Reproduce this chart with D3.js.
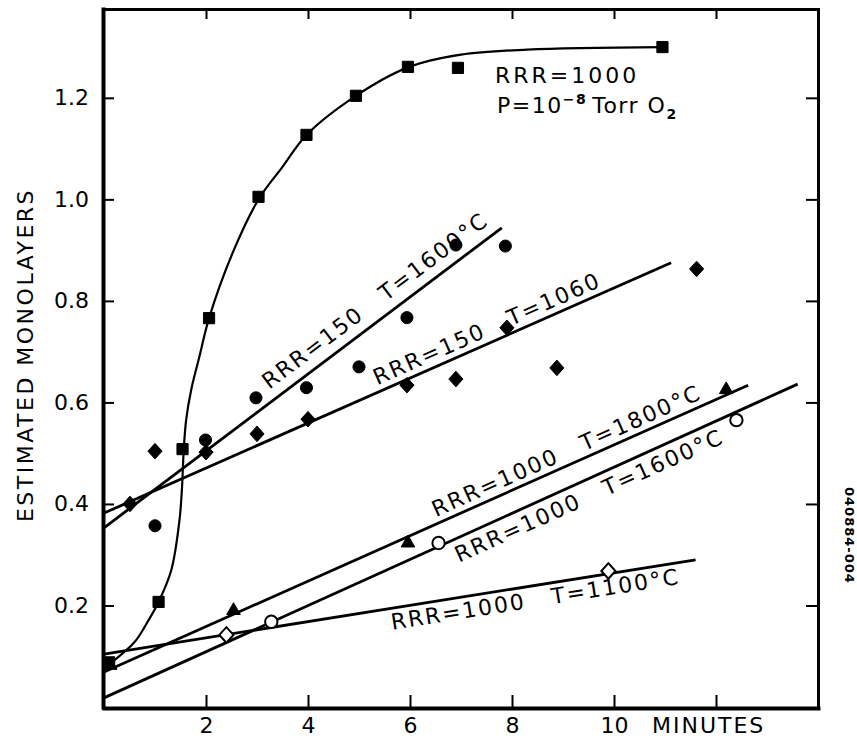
<!DOCTYPE html>
<html>
<head>
<meta charset="utf-8">
<script src="https://cdn.jsdelivr.net/npm/d3@7"></script>
<style>
  body { margin: 0; background: #fff; }
  svg text { font-family: "DejaVu Sans", sans-serif; fill: #000; }
</style>
</head>
<body>
<svg id="chart" width="857" height="738"></svg>
<script>
// readings: time in minutes, estimated monolayers
const xTicks = [2, 4, 6, 8, 10, 12];
const yTicks = [0.2, 0.4, 0.6, 0.8, 1.0, 1.2];

// RRR=1000, P=1e-8 Torr O2 (filled squares) and its drawn curve
const squareT = [0.1, 1.07, 1.54, 2.06, 3.03, 3.97, 4.94, 5.96, 6.94, 10.95];
const squareM = [0.088, 0.207, 0.508, 0.766, 1.005, 1.127, 1.204, 1.261, 1.259, 1.30];
const curveT = [0.15, 0.6, 0.85, 1.07, 1.32, 1.48, 1.53, 1.56, 1.61, 1.71, 1.87, 2.06, 2.52, 3.03, 3.5, 3.97, 4.94, 5.96, 7.0, 8.3, 10.95];
const curveM = [0.088, 0.128, 0.167, 0.207, 0.27, 0.368, 0.433, 0.5, 0.565, 0.625, 0.69, 0.766, 0.894, 1.0, 1.064, 1.127, 1.204, 1.26, 1.285, 1.295, 1.30];

// RRR=150, T=1600 C (filled circles)
const circleT = [1.0, 1.99, 2.98, 3.97, 5.0, 5.94, 6.9, 7.87];
const circleM = [0.357, 0.526, 0.609, 0.629, 0.67, 0.767, 0.91, 0.908];

// RRR=150, T=1060 (filled diamonds)
const diamondT = [0.51, 1.0, 2.0, 3.0, 4.0, 5.94, 6.9, 7.9, 8.88, 11.62];
const diamondM = [0.40, 0.504, 0.502, 0.538, 0.567, 0.634, 0.646, 0.747, 0.668, 0.863];

// RRR=1000, T=1800 C (filled triangles)
const triangleT = [0.12, 2.54, 5.96, 12.2];
const triangleM = [0.082, 0.19, 0.323, 0.625];

// RRR=1000, T=1600 C (open circles)
const openCircleT = [3.28, 6.56, 12.4];
const openCircleM = [0.168, 0.323, 0.565];

// RRR=1000, T=1100 C (open diamonds)
const openDiamondT = [2.4, 9.89];
const openDiamondM = [0.142, 0.268];

// straight fitted lines: [start, end]
const fitNames = ['150-1600', '150-1060', '1000-1800', '1000-1600', '1000-1100'];
const fitT = [[0, 7.8], [0, 11.12], [0, 12.63], [0, 13.6], [0, 11.6]];
const fitM = [[0.353, 0.944], [0.382, 0.875], [0.069, 0.634], [0.018, 0.636], [0.104, 0.29]];

// line labels
const labelFirst = ['RRR=150', 'RRR=150', 'RRR=1000', 'RRR=1000', 'RRR=1000'];
const labelSecond = ['T=1600°C', 'T=1060', 'T=1800°C', 'T=1600°C', 'T=1100°C'];
const labelT = [3.24, 5.36, 6.51, 6.96, 5.65];
const labelM = [0.625, 0.634, 0.374, 0.284, 0.152];

const svg = d3.select('#chart');
const x = d3.scaleLinear().domain([0, 14]).range([104, 818]);
const y = d3.scaleLinear().domain([0, 1.375]).range([707, 9]);

// frame with inward ticks on all four sides
function styleAxis(g, width) {
    g.select('.domain').attr('stroke', '#000').attr('stroke-width', width).attr('stroke-linecap', 'square');
    g.selectAll('.tick line').attr('stroke', '#000').attr('stroke-width', 2);
    g.attr('font-size', 22).attr('font-family', 'DejaVu Sans');
    g.selectAll('.tick text').attr('fill', '#000');
}

svg.append('g')
    .attr('transform', 'translate(0,708)')
    .call(d3.axisBottom(x).tickValues(xTicks).tickSizeInner(-13).tickSizeOuter(0).tickPadding(9)
        .tickFormat(d => d === 12 ? '' : d))
    .call(g => styleAxis(g, 4));

svg.append('g')
    .attr('transform', 'translate(103,0)')
    .call(d3.axisLeft(y).tickValues(yTicks).tickSizeInner(-11).tickSizeOuter(0).tickPadding(14)
        .tickFormat(d3.format('.1f')))
    .call(g => styleAxis(g, 4));

svg.append('g')
    .attr('transform', 'translate(0,9)')
    .call(d3.axisTop(x).tickValues(xTicks).tickSizeInner(-10).tickSizeOuter(0).tickFormat(''))
    .call(g => styleAxis(g, 3));

svg.append('g')
    .attr('transform', 'translate(818,0)')
    .call(d3.axisRight(y).tickValues(yTicks).tickSizeInner(-12).tickSizeOuter(0).tickFormat(''))
    .call(g => styleAxis(g, 3));

svg.append('text')
    .attr('x', x(10) + 38)
    .attr('y', 733)
    .attr('font-size', 22)
    .attr('letter-spacing', 2)
    .text('MINUTES');

svg.append('text')
    .attr('transform', 'translate(33,355) rotate(-90)')
    .attr('text-anchor', 'middle')
    .attr('font-size', 22)
    .attr('letter-spacing', 2.5)
    .text('ESTIMATED MONOLAYERS');

svg.append('text')
    .attr('transform', 'translate(845,487) rotate(90)')
    .attr('font-size', 13)
    .attr('font-weight', 'bold')
    .attr('letter-spacing', 1)
    .text('040884-004');

// curve and fitted lines
const line = d3.line().x(d => x(d[0])).y(d => y(d[1]));

svg.append('path')
    .datum(curveT.map((t, i) => [t, curveM[i]]))
    .attr('d', line.curve(d3.curveCatmullRom.alpha(0.5)))
    .attr('fill', 'none')
    .attr('stroke', '#000')
    .attr('stroke-width', 2.2);

line.curve(d3.curveLinear);
svg.selectAll('.fit')
    .data(fitNames)
    .enter()
    .append('path')
    .attr('class', 'fit')
    .attr('d', (d, i) => line(fitT[i].map((t, j) => [t, fitM[i][j]])))
    .attr('fill', 'none')
    .attr('stroke', '#000')
    .attr('stroke-width', 2.8);

// labels along the lines
labelFirst.forEach((first, i) => {
    const angle = Math.atan2(y(fitM[i][1]) - y(fitM[i][0]), x(fitT[i][1]) - x(fitT[i][0])) * 180 / Math.PI;
    const t = svg.append('text')
        .attr('transform', `translate(${x(labelT[i])},${y(labelM[i])}) rotate(${angle})`)
        .attr('font-size', 22)
        .attr('letter-spacing', 2)
        .text(first);
    t.append('tspan').attr('dx', 26).text(labelSecond[i]);
});

// header label
svg.append('text')
    .attr('x', 495).attr('y', 83)
    .attr('font-size', 22)
    .attr('letter-spacing', 3)
    .text('RRR=1000');
const p = svg.append('text')
    .attr('x', 497).attr('y', 113)
    .attr('font-size', 22)
    .attr('letter-spacing', 1.5)
    .text('P=10');
p.append('tspan').attr('dy', -9).attr('font-size', 14).attr('font-weight', 'bold').text('−8');
p.append('tspan').attr('dy', 9).attr('dx', 5).text('Torr  O');
p.append('tspan').attr('dy', 6).attr('font-size', 14).attr('font-weight', 'bold').text('2');

// markers
const diamondShape = {
    draw(ctx, size) {
        const r = Math.sqrt(size / 2);
        ctx.moveTo(0, -r * 1.1);
        ctx.lineTo(r, 0);
        ctx.lineTo(0, r * 1.1);
        ctx.lineTo(-r, 0);
        ctx.closePath();
    }
};

function drawMarkers(ts, ms, type, size, open) {
    svg.append('g')
        .selectAll('path')
        .data(ts.map((t, i) => [t, ms[i]]))
        .enter()
        .append('path')
        .attr('transform', d => `translate(${x(d[0])},${y(d[1])})`)
        .attr('d', d3.symbol().type(type).size(size))
        .attr('fill', open ? '#fff' : '#000')
        .attr('stroke', '#000')
        .attr('stroke-width', open ? 2 : 1);
}

drawMarkers(triangleT, triangleM, d3.symbolTriangle, 80, false);
drawMarkers(squareT, squareM, d3.symbolSquare, 125, false);
drawMarkers(circleT, circleM, d3.symbolCircle, 115, false);
drawMarkers(diamondT, diamondM, diamondShape, 100, false);
drawMarkers(openCircleT, openCircleM, d3.symbolCircle, 120, true);
drawMarkers(openDiamondT, openDiamondM, diamondShape, 100, true);
</script>
</body>
</html>
